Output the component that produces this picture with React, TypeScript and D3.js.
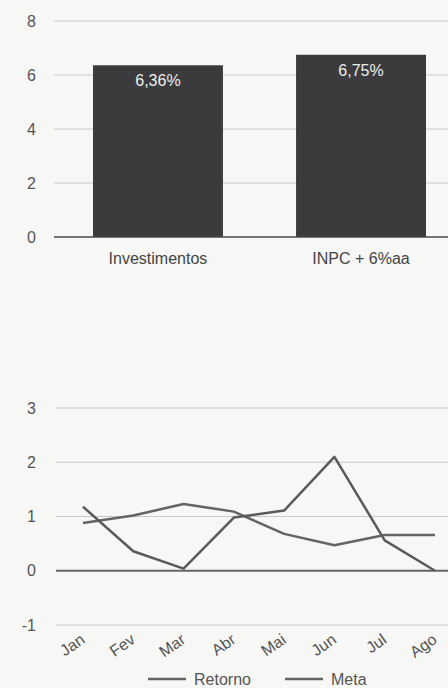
import React from "react";
import * as d3 from "d3";

const barCategories = ["Investimentos", "INPC + 6%aa"];
const barValues = [6.36, 6.75];
const barLabels = ["6,36%", "6,75%"];
const barTicks = [0, 2, 4, 6, 8];

const months = ["Jan", "Fev", "Mar", "Abr", "Mai", "Jun", "Jul", "Ago"];
const retorno = [1.18, 0.36, 0.04, 0.98, 1.11, 2.1, 0.56, 0.0];
const meta = [0.88, 1.02, 1.23, 1.09, 0.68, 0.47, 0.66, 0.66];
const lineTicks = [-1, 0, 1, 2, 3];
const legendNames = ["Retorno", "Meta"];

const W = 448;
const H = 688;
const font = "'Liberation Sans', Arial, sans-serif";

export default function App() {
  const xb = d3.scaleBand<string>().domain(barCategories).range([54, 465]).paddingInner(0.36).paddingOuter(0.192);
  const yb = d3.scaleLinear().domain([0, 8]).range([237, 21]);

  const xl = d3.scalePoint<string>().domain(months).range([83, 435]);
  const yl = d3.scaleLinear().domain([-1, 3]).range([625, 408]);
  const line = d3
    .line<number>()
    .x((_, i) => xl(months[i]) as number)
    .y((d) => yl(d));

  const legendX = [148, 285];

  return (
    <svg width={W} height={H} style={{ position: "absolute", left: 0, top: 0, display: "block" }} fontFamily={font}>
      <rect x={0} y={0} width={W} height={H} fill="#f7f7f5" />
      {/* Bar chart */}
      {barTicks.map((t) => (
        <g key={"bt" + t}>
          {t !== 0 && <line x1={54} x2={W} y1={yb(t)} y2={yb(t)} stroke="#c8c8c8" strokeWidth={1} />}
          <text x={36} y={yb(t)} dy="0.35em" textAnchor="end" fontSize={16} fill="#555">
            {t}
          </text>
        </g>
      ))}
      {barCategories.map((c, i) => (
        <g key={c}>
          <rect x={xb(c)} y={yb(barValues[i])} width={xb.bandwidth()} height={yb(0) - yb(barValues[i])} fill="#3b3b3d" />
          <text x={(xb(c) as number) + xb.bandwidth() / 2} y={yb(barValues[i]) + 21} textAnchor="middle" fontSize={16} fill="#eeeeee">
            {barLabels[i]}
          </text>
          <text x={(xb(c) as number) + xb.bandwidth() / 2} y={264} textAnchor="middle" fontSize={16} fill="#444">
            {c}
          </text>
        </g>
      ))}
      <line x1={54} x2={W} y1={yb(0)} y2={yb(0)} stroke="#4a4a4a" strokeWidth={1.5} />

      {/* Line chart */}
      {lineTicks.map((t) => (
        <g key={"lt" + t}>
          {t !== 0 && <line x1={56} x2={W} y1={yl(t)} y2={yl(t)} stroke="#c8c8c8" strokeWidth={1} />}
          <text x={36} y={yl(t)} dy="0.35em" textAnchor="end" fontSize={16} fill="#555">
            {t}
          </text>
        </g>
      ))}
      <line x1={56} x2={W} y1={yl(0)} y2={yl(0)} stroke="#666" strokeWidth={2} />
      <path d={line(meta) || ""} fill="none" stroke="#646464" strokeWidth={2.5} strokeLinejoin="round" />
      <path d={line(retorno) || ""} fill="none" stroke="#5a5a5a" strokeWidth={2.5} strokeLinejoin="round" />
      {months.map((m) => (
        <text
          key={m}
          transform={`translate(${(xl(m) as number) + 3},${642}) rotate(-35)`}
          textAnchor="end"
          fontSize={16}
          fill="#555"
        >
          {m}
        </text>
      ))}
      {legendNames.map((n, i) => {
        const x0 = legendX[i];
        return (
          <g key={n}>
            <line x1={x0} x2={x0 + 38} y1={679} y2={679} stroke="#646464" strokeWidth={2.5} />
            <text x={x0 + 46} y={679} dy="0.35em" fontSize={16} fill="#555">
              {n}
            </text>
          </g>
        );
      })}
    </svg>
  );
}
